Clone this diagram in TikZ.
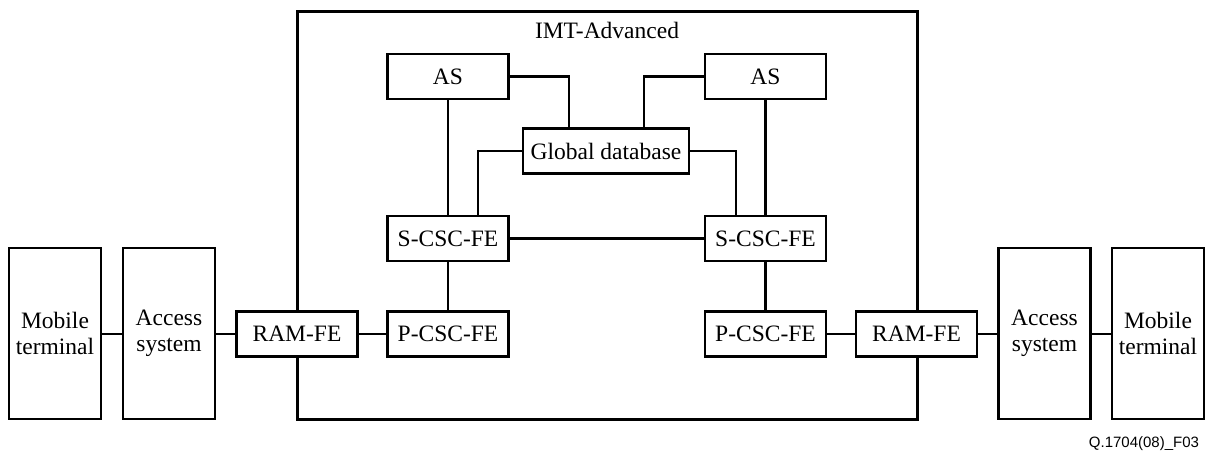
\documentclass[tikz,border=0pt]{standalone}
\usepackage{fontspec}
\setmainfont{Liberation Serif}
\newfontfamily\qsans{Liberation Sans}
\begin{document}
\begin{tikzpicture}[x=1pt,y=-1pt,
  every node/.style={inner sep=0pt,outer sep=0pt},
  blk/.style={draw,line width=2.8pt,fill=white,align=center,font=\fontsize{23.5}{25.5}\selectfont},
  smallbox/.style={blk,minimum width=121pt,minimum height=45pt},
  tallbox/.style={blk,minimum width=92pt,minimum height=171pt},
  conn/.style={line width=2.8pt}]
\useasboundingbox (0,0) rectangle (1208,450);
% container
\node[draw,line width=3pt,minimum width=620pt,minimum height=408pt] (imt) at (607,215) {};
\node[font=\fontsize{23.5}{25.5}\selectfont,anchor=base] (imtl) at (607,38) {IMT-Advanced};
% nodes
\node[tallbox] (mt1) at (55,333.5) {Mobile\\terminal};
\node[tallbox] (ac1) at (169,333.5) {Access\\system};
\node[smallbox] (ram1) at (297,334) {RAM-FE};
\node[smallbox] (p1) at (448,334) {P-CSC-FE};
\node[smallbox] (s1) at (448,238.5) {S-CSC-FE};
\node[smallbox] (asl) at (448,76.5) {AS};
\node[blk,minimum width=166pt,minimum height=45pt] (db) at (606,151) {Global database};
\node[smallbox] (asr) at (765.5,76.5) {AS};
\node[smallbox] (s2) at (765.5,238.5) {S-CSC-FE};
\node[smallbox] (p2) at (765.5,334) {P-CSC-FE};
\node[smallbox] (ram2) at (916.5,334) {RAM-FE};
\node[tallbox] (ac2) at (1044.5,333.5) {Access\\system};
\node[tallbox] (mt2) at (1158,333.5) {Mobile\\terminal};
\node[font=\qsans\fontsize{15}{17}\selectfont,anchor=base east] (fig) at (1199,447) {Q.1704(08)\_F03};
% connectors
\draw[conn] (mt1.east |- ram1) -- (ac1.west |- ram1);
\draw[conn] (ac1.east |- ram1) -- (ram1.west);
\draw[conn] (ram1) -- (p1);
\draw[conn] (p2) -- (ram2);
\draw[conn] (ram2.east) -- (ac2.west |- ram2);
\draw[conn] (ac2.east |- ram2) -- (mt2.west |- ram2);
\draw[conn] (s1) -- (p1);
\draw[conn] (s2) -- (p2);
\draw[conn] (asl) -- (s1);
\draw[conn] (asr) -- (s2);
\draw[conn] (s1) -- (s2);
\draw[conn] (asl.east) -| ([xshift=-37pt]db.north);
\draw[conn] (asr.west) -| ([xshift=38pt]db.north);
\draw[conn] (db.west) -| ([xshift=30pt]s1.north);
\draw[conn] (db.east) -| ([xshift=-29.5pt]s2.north);
\end{tikzpicture}
\end{document}
